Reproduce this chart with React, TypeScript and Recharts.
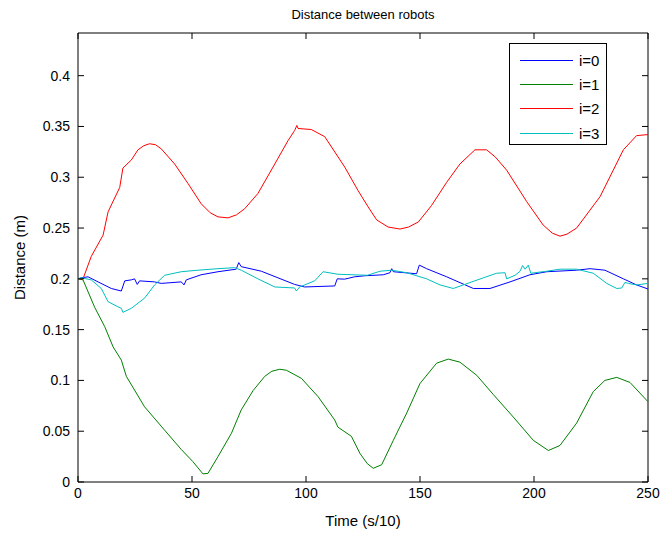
import React from "react"
import { LineChart, Line, XAxis, YAxis, ReferenceArea, Label } from "recharts"

// time (s/10), distance (m)
const robot0: [number, number][] = [
  [0, 0.2], [1.5, 0.201], [4.4, 0.202], [8.8, 0.197], [14.6, 0.1905], [19, 0.188], [20.5, 0.198],
  [23.4, 0.199], [24.8, 0.2], [26, 0.1945], [27, 0.198], [33.6, 0.197], [36.5, 0.1955], [45.3, 0.197],
  [46.5, 0.194], [47.5, 0.199], [54, 0.204], [61.4, 0.207], [69.4, 0.2095], [70.5, 0.216], [71.6, 0.212],
  [80.4, 0.2075], [87.7, 0.201], [95, 0.1945], [99.4, 0.192], [112.6, 0.193], [113.7, 0.2], [117, 0.1997],
  [121.3, 0.202], [125.7, 0.203], [133.9, 0.204], [136.8, 0.206], [137.6, 0.21], [138.3, 0.207],
  [148.5, 0.205], [149.7, 0.2135], [152.9, 0.21], [161.7, 0.202], [173.4, 0.1905], [180.7, 0.1905],
  [189.5, 0.197], [198.2, 0.204], [205.6, 0.207], [218.7, 0.2085], [224.6, 0.21], [231.1, 0.2085],
  [239.2, 0.2], [245, 0.194], [250, 0.19],
]

const robot1: [number, number][] = [
  [0, 0.2], [2.2, 0.199], [7.3, 0.172], [11.7, 0.153], [15.4, 0.133], [19, 0.12], [21.2, 0.104],
  [29.2, 0.074], [38, 0.051], [45.3, 0.032], [50.4, 0.02], [54.8, 0.008], [57, 0.0085], [61.4, 0.025],
  [67.3, 0.048], [71.6, 0.071], [76.8, 0.09], [81.9, 0.104], [85, 0.109], [88.5, 0.111], [91.4, 0.11],
  [98, 0.102], [105.3, 0.084], [112.6, 0.061], [114, 0.054], [119.9, 0.045], [123.7, 0.028],
  [126.9, 0.018], [129.5, 0.0135], [133.2, 0.017], [138.3, 0.041], [144.2, 0.068], [150, 0.097],
  [157.3, 0.117], [162.4, 0.121], [167.5, 0.118], [174.9, 0.105], [182.2, 0.086], [190.9, 0.064],
  [199.7, 0.041], [206.3, 0.031], [211.4, 0.036], [218.7, 0.058], [226, 0.089], [231.1, 0.1],
  [236.3, 0.103], [242.1, 0.098], [250, 0.079],
]

const robot2: [number, number][] = [
  [0, 0.2], [2.2, 0.2], [5.8, 0.222], [11, 0.243], [13.2, 0.266], [18.3, 0.29], [19.7, 0.309],
  [23.4, 0.317], [26.3, 0.327], [28.8, 0.331], [31.4, 0.333], [34, 0.332], [36.5, 0.328], [42.4, 0.313],
  [48.2, 0.294], [54, 0.274], [58, 0.265], [61.4, 0.261], [65.8, 0.26], [69.5, 0.263], [73.1, 0.269],
  [78.9, 0.284], [86.3, 0.313], [92.1, 0.336], [95, 0.346], [96, 0.351], [96.5, 0.348], [102.3, 0.347],
  [108.2, 0.34], [117, 0.31], [122.8, 0.287], [127.2, 0.271], [131, 0.258], [136, 0.251], [141.2, 0.249],
  [145, 0.251], [149.3, 0.256], [155, 0.272], [161.7, 0.295], [167.5, 0.313], [174.1, 0.327],
  [179.2, 0.327], [183, 0.32], [188, 0.307], [196.8, 0.276], [204, 0.253], [208, 0.245], [211.4, 0.242],
  [214.5, 0.244], [218.7, 0.25], [229, 0.281], [239.2, 0.327], [245, 0.341], [250, 0.342],
]

const robot3: [number, number][] = [
  [0, 0.2], [1.5, 0.201], [5.8, 0.199], [10.2, 0.1905], [11.7, 0.184], [13.2, 0.1775], [17.5, 0.1725],
  [19, 0.171], [19.7, 0.167], [23.4, 0.171], [29.2, 0.181], [33.6, 0.194], [38, 0.2035], [45.3, 0.207],
  [52.6, 0.2085], [61.4, 0.21], [68.7, 0.211], [71.6, 0.2085], [78.9, 0.2], [86.3, 0.192], [95, 0.191],
  [95.8, 0.188], [97.2, 0.192], [103.8, 0.198], [107.5, 0.207], [114, 0.2045], [126.9, 0.2035],
  [132.5, 0.2075], [137.6, 0.2085], [144.2, 0.206], [152.9, 0.2], [158.8, 0.194], [164.6, 0.1905],
  [169, 0.194], [177.8, 0.201], [183.6, 0.2055], [187.3, 0.206], [188, 0.2], [191.7, 0.2035],
  [193.9, 0.2075], [195, 0.213], [196.1, 0.2095], [197.5, 0.2135], [198.6, 0.2055], [205.6, 0.2075],
  [211.4, 0.2095], [218.7, 0.2095], [226, 0.2055], [231.9, 0.1955], [236.3, 0.1905], [238.5, 0.191],
  [239.9, 0.1965], [241.4, 0.1955], [245, 0.194], [250, 0.1955],
]

const seriesNames = ["i=0", "i=1", "i=2", "i=3"]
const seriesData = [robot0, robot1, robot2, robot3]
const seriesColors = ["#0000ff", "#008000", "#ff0000", "#00bfbf"]

const xTicks = [0, 50, 100, 150, 200, 250]
const yTicks = [0, 0.05, 0.1, 0.15, 0.2, 0.25, 0.3, 0.35, 0.4]

const W = 662
const H = 536
const LEFT = 78
const RIGHT = 648
const TOP = 33
const BOTTOM = 482
const TICK = 6
const FONT = "'Liberation Sans', Arial, Helvetica, sans-serif"
const FS = 14

function XTick({ x, payload }: any) {
  return (
    <g>
      <line x1={x} x2={x} y1={BOTTOM} y2={BOTTOM - TICK} stroke="#000" />
      <line x1={x} x2={x} y1={TOP} y2={TOP + TICK} stroke="#000" />
      <text x={x} y={BOTTOM + 16} textAnchor="middle" fontSize={FS} fontFamily={FONT} fill="#000">
        {payload.value}
      </text>
    </g>
  )
}

function YTick({ y, payload }: any) {
  return (
    <g>
      <line x1={LEFT} x2={LEFT + TICK} y1={y} y2={y} stroke="#000" />
      <line x1={RIGHT} x2={RIGHT - TICK} y1={y} y2={y} stroke="#000" />
      <text x={LEFT - 8} y={y + 5} textAnchor="end" fontSize={FS} fontFamily={FONT} fill="#000">
        {payload.value}
      </text>
    </g>
  )
}

export default function App() {
  const lines = seriesData.map((s) => s.map(([t, v]) => ({ t, v })))

  return (
    <div style={{ position: "absolute", left: 0, top: 0, width: W, height: H, background: "#fff" }}>
      <LineChart
        width={W}
        height={H}
        margin={{ top: TOP, right: W - RIGHT, bottom: 0, left: 0 }}
      >
        <XAxis
          type="number"
          dataKey="t"
          domain={[0, 250]}
          ticks={xTicks}
          height={H - BOTTOM}
          axisLine={false}
          tickLine={false}
          tick={<XTick />}
          allowDataOverflow
        >
          <Label value="Time (s/10)" position="insideBottom" offset={10} fontSize={15} fontFamily={FONT} fill="#000" />
        </XAxis>
        <YAxis
          type="number"
          dataKey="v"
          domain={[0, 0.442]}
          ticks={yTicks}
          width={LEFT}
          axisLine={false}
          tickLine={false}
          tick={<YTick />}
          allowDataOverflow
        >
          <Label value="Distance (m)" angle={-90} position="insideLeft" offset={20} style={{ textAnchor: "middle" }} fontSize={15} fontFamily={FONT} fill="#000" />
        </YAxis>
        <ReferenceArea x1={0} x2={250} y1={0} y2={0.442} fill="none" stroke="#000" strokeWidth={1} />
        {lines.map((d, i) => (
          <Line
            key={seriesNames[i]}
            data={d}
            dataKey="v"
            name={seriesNames[i]}
            type="linear"
            stroke={seriesColors[i]}
            strokeWidth={1}
            dot={false}
            activeDot={false}
            isAnimationActive={false}
          />
        ))}
        <text x={(LEFT + RIGHT) / 2} y={19} textAnchor="middle" fontSize={13} fontFamily={FONT} fill="#000">
          Distance between robots
        </text>
      </LineChart>

      <div
        style={{
          position: "absolute",
          left: 509,
          top: 43,
          width: 98,
          height: 102,
          border: "1px solid #000",
          background: "#fff",
          fontFamily: FONT,
          fontSize: 15,
          paddingTop: 4,
          boxSizing: "border-box",
        }}
      >
        {seriesNames.map((n, i) => (
          <div key={n} style={{ display: "flex", alignItems: "center", height: 24.3, marginLeft: 10 }}>
            <div style={{ width: 53, height: 1, background: seriesColors[i] }} />
            <span style={{ marginLeft: 6 }}>{n}</span>
          </div>
        ))}
      </div>
    </div>
  )
}
